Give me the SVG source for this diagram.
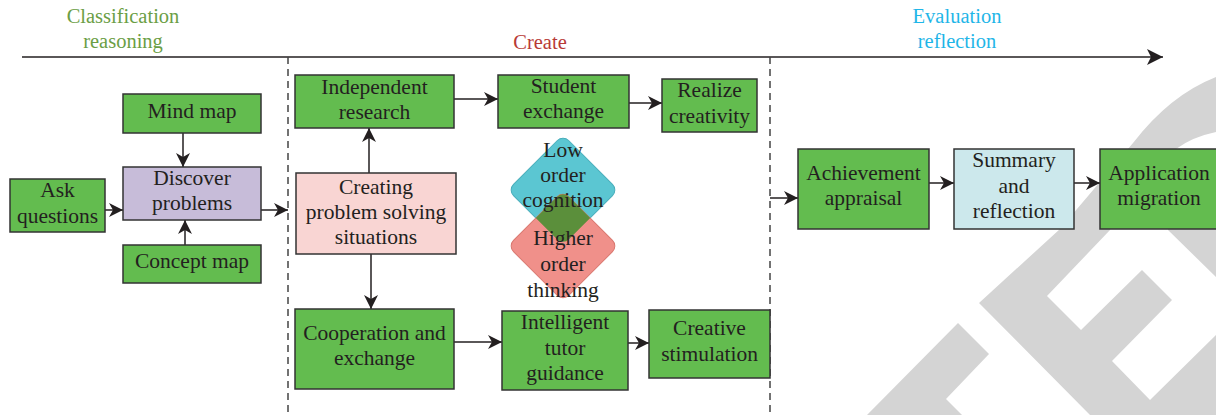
<svg xmlns="http://www.w3.org/2000/svg" width="1216" height="415" viewBox="0 0 1216 415">
<defs>
<style>
.box{stroke:#333;stroke-width:1.5}
.g{fill:#63bc4f}
.t{font-family:"Liberation Serif",serif;font-size:21.5px;fill:#231f20;text-anchor:middle}
.h{font-family:"Liberation Serif",serif;font-size:20.5px;text-anchor:middle}
.c{stroke:#231f20;stroke-width:1.5;fill:none;marker-end:url(#ah)}
.dash{stroke:#444;stroke-width:1.5;stroke-dasharray:7 5;fill:none}
.wm{fill:#d4d4d4}
</style>
<marker id="ah" viewBox="0 0 14 14" refX="14" refY="7" markerWidth="14" markerHeight="14" markerUnits="userSpaceOnUse" orient="auto">
<path d="M0,0 L14,7 L0,14 L4,7 Z" fill="#231f20"/>
</marker>
<marker id="ahBig" viewBox="0 0 16 16" refX="16" refY="8" markerWidth="16" markerHeight="16" markerUnits="userSpaceOnUse" orient="auto">
<path d="M0,0 L16,8 L0,16 L4,8 Z" fill="#231f20"/>
</marker>
<clipPath id="blueClip">
<rect x="524" y="151" width="78" height="78" rx="8" transform="rotate(45 563 190)"/>
</clipPath>
</defs>

<g id="watermark">
<path class="wm" d="M1216,77 Q1170,95 1133,143 L1060,229 L979,303 L1090,415 L1216,415 Z"/>
<path fill="#fff" d="M1112,226 L1110,230 L1047,296 L1081,330 L1142,270 L1172,300 L1112,361 L1150,400 L1216,335 L1216,277 L1168,230 L1168,226 Z"/>
<path fill="#fff" d="M1216,132 Q1192,137 1176,149 L1216,149 Z"/>
<path class="wm" d="M867,415 L958,323 L989,354 L946,399 L962,415 Z"/>
</g>

<g id="headers">
<text class="h" x="123" y="23" fill="#6b9e45">Classification</text>
<text class="h" x="123" y="48" fill="#6b9e45">reasoning</text>
<text class="h" x="540" y="49" fill="#b83a36">Create</text>
<text class="h" x="957" y="23" fill="#1fb6e8">Evaluation</text>
<text class="h" x="957" y="48" fill="#1fb6e8">reflection</text>
</g>

<g id="axis">
<line x1="22" y1="57" x2="1163" y2="57" stroke="#231f20" stroke-width="1.5" marker-end="url(#ahBig)"/>
<line class="dash" x1="288" y1="57" x2="288" y2="412"/>
<line class="dash" x1="770" y1="57" x2="770" y2="412"/>
</g>

<g id="diamonds">
<g id="low-order">
<rect x="524" y="151" width="78" height="78" rx="8" transform="rotate(45 563 190)" fill="#5bc6d2" stroke="#49aebb" stroke-width="1"/>
</g>
<g id="higher-order">
<rect x="524" y="207" width="78" height="78" rx="8" transform="rotate(45 563 246)" fill="#f0908a" stroke="#d9776f" stroke-width="1"/>
<g clip-path="url(#blueClip)">
<rect x="524" y="207" width="78" height="78" rx="8" transform="rotate(45 563 246)" fill="#5b8f3b"/>
</g>
</g>
<text class="t" x="563" y="157">Low</text>
<text class="t" x="563" y="182">order</text>
<text class="t" x="563" y="207">cognition</text>
<text class="t" x="563" y="245">Higher</text>
<text class="t" x="563" y="271">order</text>
<text class="t" x="563" y="297">thinking</text>
</g>

<g id="connectors">
<line class="c" x1="183" y1="133" x2="183" y2="167"/>
<line class="c" x1="185" y1="245" x2="185" y2="220"/>
<line class="c" x1="105" y1="210" x2="123" y2="210"/>
<line class="c" x1="261" y1="210" x2="288" y2="210"/>
<line class="c" x1="369" y1="173" x2="369" y2="128"/>
<line class="c" x1="371" y1="254" x2="371" y2="309"/>
<line class="c" x1="454" y1="99" x2="498" y2="99"/>
<line class="c" x1="629" y1="103" x2="662" y2="103"/>
<line class="c" x1="454" y1="342" x2="502" y2="342"/>
<line class="c" x1="628" y1="343" x2="649" y2="343"/>
<line class="c" x1="770" y1="198" x2="798" y2="198"/>
<line class="c" x1="929" y1="183" x2="954" y2="183"/>
<line class="c" x1="1074" y1="183" x2="1100" y2="183"/>
</g>

<g id="mind-map">
<rect class="box g" x="123" y="94" width="138" height="39"/>
<text class="t" x="192" y="118">Mind map</text>
</g>
<g id="ask-questions">
<rect class="box g" x="10" y="179" width="95" height="53"/>
<text class="t" x="57.5" y="197">Ask</text>
<text class="t" x="57.5" y="223">questions</text>
</g>
<g id="discover-problems">
<rect class="box" fill="#c7bcd9" x="123" y="167" width="138" height="53"/>
<text class="t" x="192" y="185">Discover</text>
<text class="t" x="192" y="210">problems</text>
</g>
<g id="concept-map">
<rect class="box g" x="123" y="245" width="138" height="38"/>
<text class="t" x="192" y="268">Concept map</text>
</g>
<g id="independent-research">
<rect class="box g" x="295" y="75" width="159" height="53"/>
<text class="t" x="374.5" y="94">Independent</text>
<text class="t" x="374.5" y="119">research</text>
</g>
<g id="student-exchange">
<rect class="box g" x="498" y="75" width="131" height="53"/>
<text class="t" x="563.5" y="93">Student</text>
<text class="t" x="563.5" y="118">exchange</text>
</g>
<g id="realize-creativity">
<rect class="box g" x="662" y="79" width="95" height="53"/>
<text class="t" x="709.5" y="97">Realize</text>
<text class="t" x="709.5" y="123">creativity</text>
</g>
<g id="creating-situations">
<rect class="box" fill="#f9d5d3" x="296" y="173" width="160" height="81"/>
<text class="t" x="376" y="194">Creating</text>
<text class="t" x="376" y="219">problem solving</text>
<text class="t" x="376" y="244">situations</text>
</g>
<g id="cooperation-exchange">
<rect class="box g" x="295" y="309" width="159" height="80"/>
<text class="t" x="374.5" y="340">Cooperation and</text>
<text class="t" x="374.5" y="365">exchange</text>
</g>
<g id="intelligent-tutor">
<rect class="box g" x="502" y="311" width="126" height="79"/>
<text class="t" x="565" y="329">Intelligent</text>
<text class="t" x="565" y="355">tutor</text>
<text class="t" x="565" y="380">guidance</text>
</g>
<g id="creative-stimulation">
<rect class="box g" x="649" y="310" width="121" height="68"/>
<text class="t" x="709.5" y="335">Creative</text>
<text class="t" x="709.5" y="361">stimulation</text>
</g>
<g id="achievement-appraisal">
<rect class="box g" x="798" y="149" width="131" height="80"/>
<text class="t" x="863.5" y="180">Achievement</text>
<text class="t" x="863.5" y="205">appraisal</text>
</g>
<g id="summary-reflection">
<rect class="box" fill="#cce8ec" x="954" y="149" width="120" height="80"/>
<text class="t" x="1014" y="167">Summary</text>
<text class="t" x="1014" y="193">and</text>
<text class="t" x="1014" y="218">reflection</text>
</g>
<g id="application-migration">
<rect class="box g" x="1100" y="149" width="120" height="80"/>
<text class="t" x="1159" y="180">Application</text>
<text class="t" x="1159" y="205">migration</text>
</g>
</svg>
